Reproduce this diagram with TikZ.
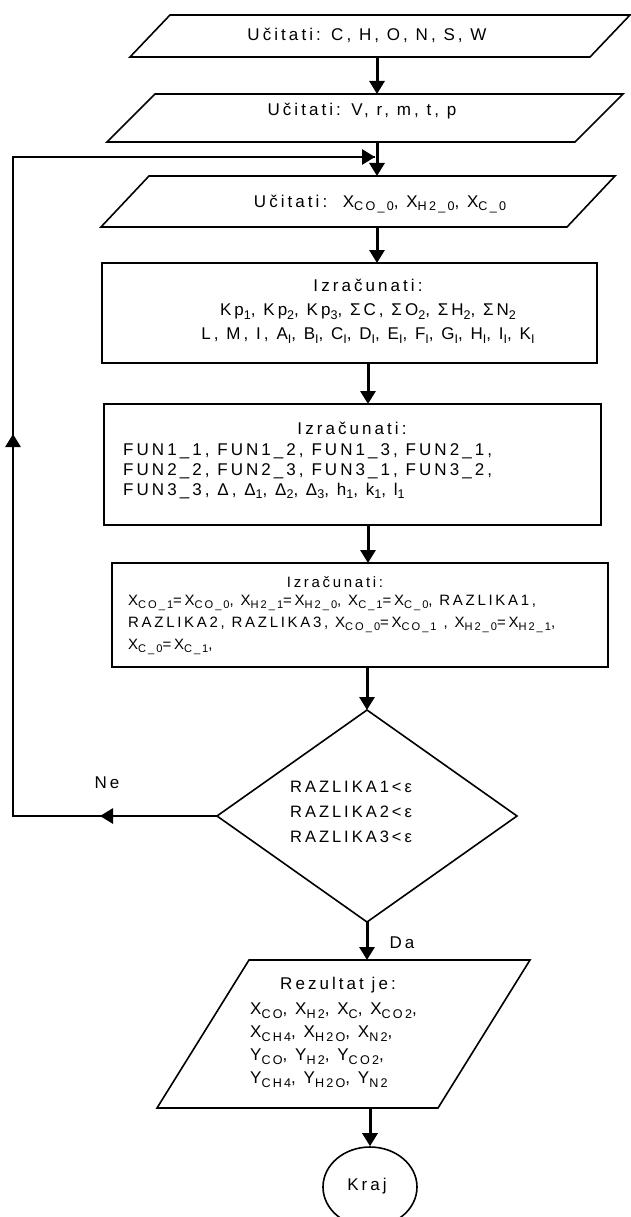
\documentclass[tikz,border=0pt]{standalone}
\usepackage{fontspec}
\usepackage{graphicx}
\setmainfont{Liberation Sans}[LetterSpace=18]
\usetikzlibrary{arrows.meta,calc,shapes.geometric,decorations.markings}
% lowered, reduced index text
\newcommand\sbs[1]{\raisebox{-0.22em}{\scalebox{0.74}{#1}}}
% slanted input/output box drawn on an invisible frame node
\newcommand\parashape[2]{\draw[outline] ($(#1.north west)+(#2,0)$) -- (#1.north east) -- ($(#1.south east)-(#2,0)$) -- (#1.south west) -- cycle;}

\begin{document}
\begin{tikzpicture}[x=1pt,y=-1pt,
  frame/.style={inner sep=0pt, outer sep=0pt},
  outline/.style={line width=1.6pt, line join=miter},
  boxline/.style={draw, line width=2pt, inner sep=0pt, outer sep=0pt},
  flow/.style={line width=3pt, -{Triangle[width=15pt,length=13pt]}},
  back/.style={line width=2.8pt,
    postaction={decorate, decoration={markings,
      mark=at position 117pt with {\arrow{Triangle[width=15pt,length=13pt]}},
      mark=at position 586pt with {\arrow{Triangle[width=15pt,length=13pt]}},
      mark=at position 1.0 with {\arrow{Triangle[width=15pt,length=13pt]}}}}},
  txt/.style={inner sep=0pt, font=\fontsize{17}{24}\selectfont},
  small/.style={inner sep=0pt, font=\fontsize{15}{22}\selectfont}
]
\useasboundingbox[fill=white] (0,0) rectangle (631,1217);

% column positions of the vertical flow
\coordinate (colA) at (377,0);
\coordinate (colB) at (368,0);
\coordinate (colC) at (370,0);

% input boxes
\node[frame, minimum width=500, minimum height=42] (p1) at (380,36) {};
\node[frame, minimum width=516, minimum height=48] (p2) at (365,118) {};
\node[frame, minimum width=514, minimum height=51] (p3) at (358,201.5) {};
\parashape{p1}{40}
\parashape{p2}{48}
\parashape{p3}{48}
\node[txt] (t1) at (367,35) {Učitati: C, H, O, N, S, W};
\node[txt] (t2) at (362,111) {Učitati: V, r, m, t, p};
\node[txt] (t3) at (380,204) {Učitati:\ \ X\sbs{CO\_0}, X\sbs{H2\_0}, X\sbs{C\_0}};

% computation boxes
\node[boxline, minimum width=495, minimum height=100] (b1) at (349.5,313) {};
\node[txt, align=center] (t4) at (368,311) {Izračunati:\\
  Kp\sbs{1}, Kp\sbs{2}, Kp\sbs{3}, ΣC, ΣO\sbs{2}, ΣH\sbs{2}, ΣN\sbs{2}\\
  L, M, I, A\sbs{I}, B\sbs{I}, C\sbs{I}, D\sbs{I}, E\sbs{I}, F\sbs{I}, G\sbs{I}, H\sbs{I}, I\sbs{I}, K\sbs{I}};

\node[boxline, minimum width=497, minimum height=121] (b2) at (352.5,464.5) {};
\node[txt] (t5) at (352,428) {Izračunati:};
\node[txt, align=left, anchor=west, font=\fontsize{17}{20}\selectfont] (t6) at (123,471) {FUN1\_1, FUN1\_2, FUN1\_3, FUN2\_1,\\
  FUN2\_2, FUN2\_3, FUN3\_1, FUN3\_2,\\
  FUN3\_3, Δ, Δ\sbs{1}, Δ\sbs{2}, Δ\sbs{3}, h\sbs{1}, k\sbs{1}, l\sbs{1}};

\node[boxline, minimum width=496, minimum height=104] (b3) at (360,615) {};
\node[small] (t7) at (335,582) {Izračunati:};
\node[small, align=left, anchor=west] (t8) at (128,625) {X\sbs{CO\_1}=X\sbs{CO\_0}, X\sbs{H2\_1}=X\sbs{H2\_0}, X\sbs{C\_1}=X\sbs{C\_0}, RAZLIKA1,\\
  RAZLIKA2, RAZLIKA3, X\sbs{CO\_0}=X\sbs{CO\_1} , X\sbs{H2\_0}=X\sbs{H2\_1},\\
  X\sbs{C\_0}=X\sbs{C\_1},};

% decision
\node[frame, minimum width=300, minimum height=212] (d) at (367,816) {};
\draw[outline] (d.north) -- (d.east) -- (d.south) -- (d.west) -- cycle;
\node[txt, align=left, anchor=west, font=\fontsize{16.5}{25}\selectfont] (t9) at (290,812) {RAZLIKA1<ε\\RAZLIKA2<ε\\RAZLIKA3<ε};

% output box
\node[frame, minimum width=373, minimum height=148] (p4) at (343.5,1034) {};
\parashape{p4}{92}
\node[txt] (t10) at (338,985) {Rezultat je:};
\node[txt, align=left, anchor=west, font=\fontsize{17}{23}\selectfont] (t11) at (250,1045) {X\sbs{CO}, X\sbs{H2}, X\sbs{C}, X\sbs{CO2},\\
  X\sbs{CH4}, X\sbs{H2O}, X\sbs{N2},\\
  Y\sbs{CO}, Y\sbs{H2}, Y\sbs{CO2},\\
  Y\sbs{CH4}, Y\sbs{H2O}, Y\sbs{N2}};

% end
\node[draw, ellipse, line width=1.6pt, minimum width=94, minimum height=80, inner sep=0pt] (kraj) at (370,1187) {};
\node[txt] (t12) at (367,1186) {Kraj};

% branch labels
\node[txt] (ne) at (107,783) {Ne};
\node[txt] (da) at (402,943) {Da};

% flow arrows
\draw[flow] (p1.south -| colA) -- (p2.north -| colA);
\draw[flow] (p2.south -| colA) -- (p3.north -| colA);
\draw[flow] (p3.south -| colA) -- (b1.north -| colA);
\draw[flow] (b1.south -| colB) -- (b2.north -| colB);
\draw[flow] (b2.south -| colB) -- (b3.north -| colB);
\draw[flow] (b3.south -| d.north) -- (d.north);
\draw[flow] (d.south) -- (p4.north -| d.south);
\draw[flow] (p4.south -| colC) -- (kraj.north);

% return loop
\coordinate (lb) at (13,816);
\coordinate (lt) at (13,157);
\coordinate (lend) at (375,157);
\draw[back] (d.west) -- (lb) -- (lt) -- (lend);
\end{tikzpicture}
\end{document}
